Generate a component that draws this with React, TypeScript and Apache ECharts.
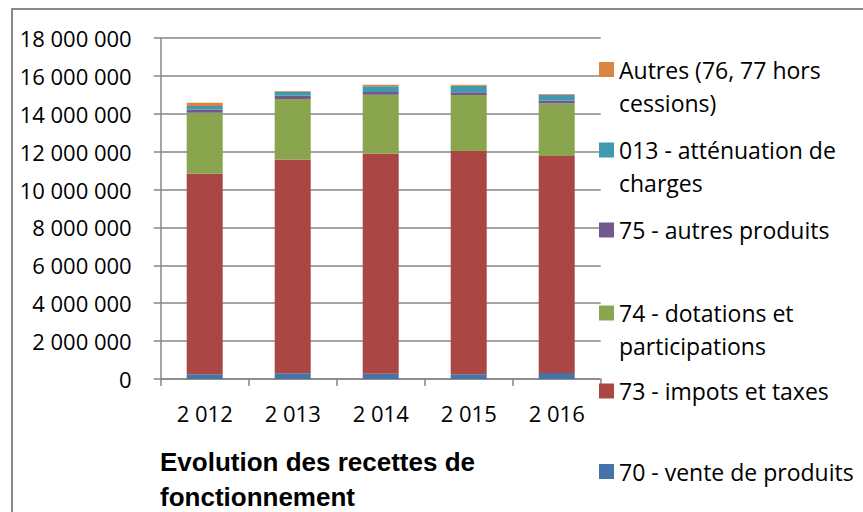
import React, { useEffect, useRef } from 'react';
import * as echarts from 'echarts';

const categories = ['2 012', '2 013', '2 014', '2 015', '2 016'];
const seriesNames = [
  '70 - vente de produits',
  '73 - impots et taxes',
  '74 - dotations et participations',
  '75 - autres produits',
  '013 - atténuation de charges',
  'Autres (76, 77 hors cessions)',
];
const legendLabels = [
  '70 - vente de produits',
  '73 - impots et taxes',
  '74 - dotations et\nparticipations',
  '75 - autres produits',
  '013 - atténuation de\ncharges',
  'Autres (76, 77 hors\ncessions)',
];
const vente70 = [250000, 300000, 280000, 250000, 320000];
const impots73 = [10590000, 11280000, 11620000, 11780000, 11450000];
const dotations74 = [3210000, 3200000, 3110000, 2960000, 2770000];
const autresProduits75 = [180000, 170000, 140000, 140000, 160000];
const attenuation013 = [180000, 210000, 300000, 350000, 300000];
const autres7677 = [170000, 40000, 80000, 50000, 50000];
const title = 'Evolution des recettes de\nfonctionnement';

const colors = ['#4572A7', '#AA4643', '#89A54E', '#71588F', '#4198AF', '#DB843D'];
const legendIconCenters = [471.5, 391, 313, 230, 150, 69.5];

const fmt = (n: number) => String(n).replace(/\B(?=(\d{3})+(?!\d))/g, ' ');

export default function App() {
  const ref = useRef<HTMLDivElement>(null);
  useEffect(() => {
    if (!ref.current) return;
    const chart = echarts.init(ref.current, null, { renderer: 'svg' });
    const values = [vente70, impots73, dotations74, autresProduits75, attenuation013, autres7677];
    const LH = 33;
    const legends = seriesNames.map((name, i) => {
      const twoLine = legendLabels[i].includes('\n');
      const top = twoLine ? legendIconCenters[i] - 1.5 * LH : legendIconCenters[i] - LH / 2;
      return {
        data: [name],
        left: 599,
        top,
        padding: 0,
        orient: 'vertical',
        itemWidth: 15,
        itemHeight: 15,
        icon: 'rect',
        selectedMode: false,
        formatter: () => (twoLine ? ' \n' + legendLabels[i] : legendLabels[i]),
        textStyle: {
          fontFamily: 'Open Sans',
          fontSize: 23,
          color: '#000',
          lineHeight: LH,
        },
      };
    });
    chart.setOption({
      animation: false,
      color: colors,
      title: {
        text: title,
        left: 155,
        top: 439,
        textStyle: {
          fontFamily: 'Liberation Sans',
          fontWeight: 'bold',
          fontSize: 26,
          lineHeight: 35,
          color: '#000',
        },
      },
      legend: legends,
      graphic: [
        {
          type: 'rect',
          shape: { x: 12, y: 9, width: 900, height: 600 },
          style: { fill: 'none', stroke: '#898989', lineWidth: 2 },
          silent: true,
        },
      ],
      grid: { left: 160.7, right: 262.3, top: 38, bottom: 133 },
      xAxis: {
        type: 'category',
        data: categories,
        axisLine: { lineStyle: { color: '#868686', width: 1.5 } },
        axisTick: { show: true, length: 7, lineStyle: { color: '#868686', width: 1.5 } },
        axisLabel: {
          fontFamily: 'Open Sans',
          fontSize: 22,
          lineHeight: 22,
          color: '#000',
          margin: 23,
        },
      },
      yAxis: {
        type: 'value',
        min: 0,
        max: 18000000,
        interval: 2000000,
        axisLine: { show: true, lineStyle: { color: '#868686', width: 1.5 } },
        axisTick: { show: true, length: 7, lineStyle: { color: '#868686', width: 1.5 } },
        splitLine: { lineStyle: { color: '#868686', width: 1.5 } },
        axisLabel: {
          fontFamily: 'Open Sans',
          fontSize: 22,
          color: '#000',
          margin: 29,
          formatter: (v: number) => fmt(v),
        },
      },
      series: seriesNames.map((name, i) => ({
        name,
        type: 'bar',
        stack: 'total',
        barWidth: 36,
        data: values[i],
        itemStyle: { color: colors[i] },
      })),
    });
    return () => chart.dispose();
  }, []);
  return (
    <div
      ref={ref}
      style={{ position: 'fixed', left: 0, top: 0, width: 863, height: 512, background: '#fff' }}
    />
  );
}
